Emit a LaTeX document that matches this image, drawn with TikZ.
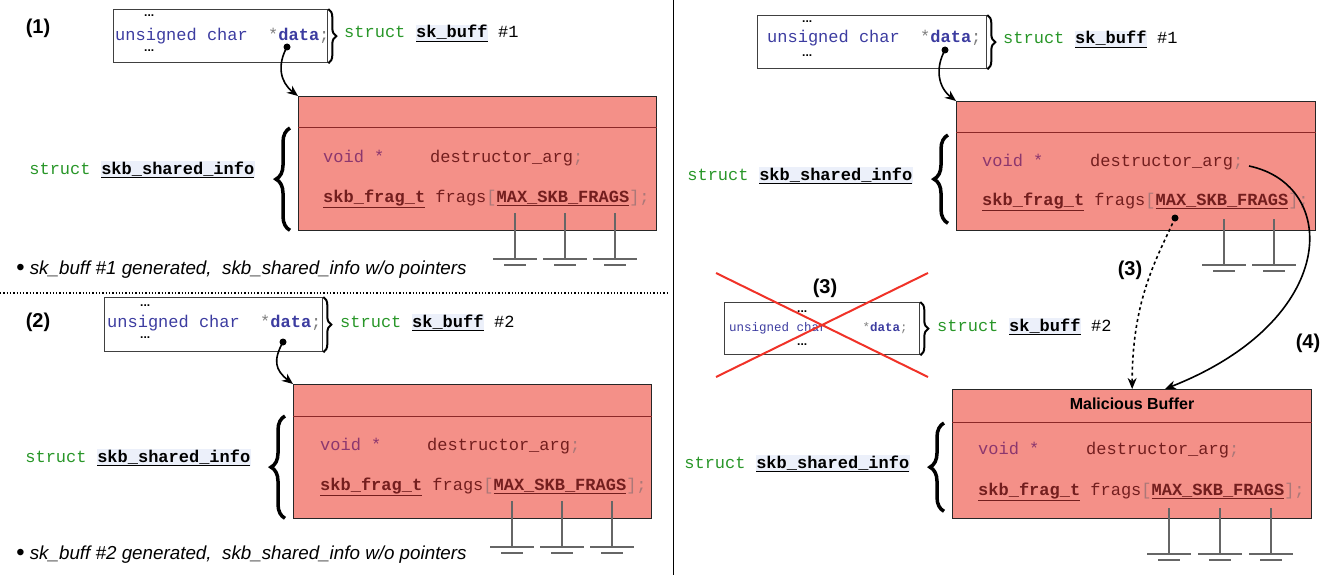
\documentclass[tikz,border=0pt]{standalone}
\usepackage{fontspec}
\setmainfont{Liberation Sans}
\setsansfont{Liberation Sans}
\setmonofont{Liberation Mono}
\usepackage{xcolor}
\usepackage{tikz}
\usetikzlibrary{arrows.meta, positioning, calc, decorations.pathreplacing}

\definecolor{infofill}{RGB}{244,144,136}
\definecolor{infoline}{RGB}{140,40,40}
\definecolor{kwblue}{RGB}{60,60,160}
\definecolor{kwgreen}{RGB}{40,150,40}
\definecolor{kwpurple}{RGB}{140,55,110}
\definecolor{kwdark}{RGB}{115,30,30}
\definecolor{typebg}{RGB}{236,240,250}
\definecolor{crossred}{RGB}{240,50,40}

\newcommand{\typename}[1]{{\setlength{\fboxsep}{0.5pt}\colorbox{typebg}{\underline{\textbf{#1}}}}}
\newcommand{\fieldtype}[1]{\underline{\textbf{#1}}}
\newcommand{\bigbullet}{{\fontsize{24}{24}\selectfont\raisebox{-1.5pt}{\textbullet}}}

\begin{document}
\begin{tikzpicture}[
    x=1pt, y=-1pt,
    buf/.style={draw=black!75, line width=1.3pt, anchor=north west, inner sep=0pt},
    info/.style={draw=black!85, line width=1.3pt, fill=infofill, anchor=north west, inner sep=0pt, minimum width=358pt, minimum height=134pt},
    code/.style={font=\fontsize{17}{20}\selectfont\ttfamily, anchor=base west, inner sep=0pt},
    smallcode/.style={font=\fontsize{12.5}{14}\selectfont\ttfamily, anchor=base west, inner sep=0pt},
    dots/.style={font=\fontsize{12}{12}\selectfont\bfseries, anchor=base west, inner sep=0pt},
    label/.style={font=\fontsize{20}{24}\selectfont\bfseries, inner sep=0pt},
    note/.style={font=\fontsize{18.8}{22}\selectfont\itshape, anchor=base west, inner sep=0pt},
    sep/.style={draw=infoline, line width=1pt},
    ptr/.style={-{Stealth[length=11pt, width=9pt]}, line width=1.6pt},
    dot/.style={circle, fill=black, inner sep=0pt, minimum size=7pt},
    rbrace/.style={decorate, decoration={brace, amplitude=8pt}, line width=2pt},
    lbrace/.style={decorate, decoration={brace, amplitude=14pt}, line width=3.5pt},
    wire/.style={draw=black!60, line width=1.3pt},
    cross/.style={draw=crossred, line width=2pt},
    ground/.pic={
        \draw[wire] (0,-46) -- (0,0);
        \draw[wire] (-22,0) -- (22,0);
        \draw[wire] (-11,6) -- (11,6);
    },
]
\useasboundingbox (0,0) rectangle (1325,575);

% Dividers
\draw[line width=1pt] (673,0) -- (673,575);
\draw[dotted, line width=1.3pt] (0,293) -- (668,293);

% (1) first sk_buff
\node[label] (step1) at (38,28) {(1)};
\node[buf, minimum width=214pt, minimum height=53pt] (buf1) at (113,9) {};
\node[dots] (buf1top) at (144,17) {...};
\node[code] (buf1data) at (115,41) {\textcolor{kwblue}{unsigned char}\ \ \textcolor{gray}{*}\textcolor{kwblue}{\textbf{data}}\textcolor{gray}{;}};
\node[dots] (buf1bot) at (144,52) {...};
\draw[rbrace] (buf1.north east) -- (buf1.south east);
\node[code] (buf1name) at (344,38) {\textcolor{kwgreen}{struct} \typename{sk\_buff} \#1};
\node[dot] (d1) at (287,47) {};

% (1) skb_shared_info
\node[info] (info1) at (298,96) {};
\draw[sep] ($(info1.north west)+(0,32)$) -- ($(info1.north east)+(0,32)$);
\draw[lbrace] ($(info1.south west)+(-8,-1)$) -- ($(info1.north west)+(-8,32)$);
\node[code, anchor=base east] (info1name) at (255,174) {\textcolor{kwgreen}{struct} \typename{skb\_shared\_info}};
\node[code] (info1void) at (323,162) {\textcolor{kwpurple}{void *}};
\node[code] (info1arg) at (430,162) {\textcolor{kwdark}{destructor\_arg}\textcolor{kwdark!60}{;}};
\node[code] (info1frags) at (323,202) {\textcolor{kwdark}{\fieldtype{skb\_frag\_t} frags}\textcolor{kwdark!60}{[}\textcolor{kwdark}{\fieldtype{MAX\_SKB\_FRAGS}}\textcolor{kwdark!60}{];}};
\pic at (515,259) {ground};
\pic at (565,259) {ground};
\pic at (615,259) {ground};
\draw[ptr] (d1.center) .. controls +(-10,18) and +(-18,-14) .. (info1.north west);
\node[note] (note1) at (16,274) {\bigbullet\ sk\_buff \#1 generated,\ \ skb\_shared\_info w/o pointers};

% (2) second sk_buff
\node[label] (step2) at (38,322) {(2)};
\node[buf, minimum width=218pt, minimum height=54pt] (buf2) at (104,297) {};
\node[dots] (buf2top) at (140,306) {...};
\node[code] (buf2data) at (107,327) {\textcolor{kwblue}{unsigned char}\ \ \textcolor{gray}{*}\textcolor{kwblue}{\textbf{data}}\textcolor{gray}{;}};
\node[dots] (buf2bot) at (140,338) {...};
\draw[rbrace] (buf2.north east) -- (buf2.south east);
\node[code] (buf2name) at (340,327) {\textcolor{kwgreen}{struct} \typename{sk\_buff} \#2};
\node[dot] (d2) at (283,342) {};

% (2) skb_shared_info
\node[info] (info2) at (293,384) {};
\draw[sep] ($(info2.north west)+(0,32)$) -- ($(info2.north east)+(0,32)$);
\draw[lbrace] ($(info2.south west)+(-8,-1)$) -- ($(info2.north west)+(-8,32)$);
\node[code, anchor=base east] (info2name) at (251,462) {\textcolor{kwgreen}{struct} \typename{skb\_shared\_info}};
\node[code] (info2void) at (320,450) {\textcolor{kwpurple}{void *}};
\node[code] (info2arg) at (427,450) {\textcolor{kwdark}{destructor\_arg}\textcolor{kwdark!60}{;}};
\node[code] (info2frags) at (320,490) {\textcolor{kwdark}{\fieldtype{skb\_frag\_t} frags}\textcolor{kwdark!60}{[}\textcolor{kwdark}{\fieldtype{MAX\_SKB\_FRAGS}}\textcolor{kwdark!60}{];}};
\pic at (512,547) {ground};
\pic at (562,547) {ground};
\pic at (612,547) {ground};
\draw[ptr] (d2.center) .. controls +(-10,18) and +(-18,-14) .. (info2.north west);
\node[note] (note2) at (16,559) {\bigbullet\ sk\_buff \#2 generated,\ \ skb\_shared\_info w/o pointers};

% Right: sk_buff #1
\node[buf, minimum width=229pt, minimum height=53pt] (buf3) at (757,15) {};
\node[dots] (buf3top) at (802,23) {...};
\node[code] (buf3data) at (767,43) {\textcolor{kwblue}{unsigned char}\ \ \textcolor{gray}{*}\textcolor{kwblue}{\textbf{data}}\textcolor{gray}{;}};
\node[dots] (buf3bot) at (802,57) {...};
\draw[rbrace] (buf3.north east) -- (buf3.south east);
\node[code] (buf3name) at (1003,44) {\textcolor{kwgreen}{struct} \typename{sk\_buff} \#1};
\node[dot] (d3) at (945,50) {};

% Right: skb_shared_info
\node[info, minimum width=359pt, minimum height=129pt] (info3) at (956,101) {};
\draw[sep] ($(info3.north west)+(0,32)$) -- ($(info3.north east)+(0,32)$);
\draw[lbrace] ($(info3.south west)+(-8,-8)$) -- ($(info3.north west)+(-8,34)$);
\node[code, anchor=base east] (info3name) at (913,180) {\textcolor{kwgreen}{struct} \typename{skb\_shared\_info}};
\node[code] (info3void) at (982,166) {\textcolor{kwpurple}{void *}};
\node[code] (info3arg) at (1090,166) {\textcolor{kwdark}{destructor\_arg}\textcolor{kwdark!60}{;}};
\node[code] (info3frags) at (982,205) {\textcolor{kwdark}{\fieldtype{skb\_frag\_t} frags}\textcolor{kwdark!60}{[}\textcolor{kwdark}{\fieldtype{MAX\_SKB\_FRAGS}}\textcolor{kwdark!60}{];}};
\pic at (1224,265) {ground};
\pic at (1274,265) {ground};
\draw[ptr] (d3.center) .. controls +(-10,18) and +(-18,-14) .. (info3.north west);
\node[dot] (d4) at (1175,218) {};
\coordinate (argend) at (1249,166);

% Right: freed sk_buff #2
\node[label] (step3b) at (825,288) {(3)};
\node[buf, minimum width=195pt, minimum height=52pt] (buf4) at (724,302) {};
\node[dots] (buf4top) at (797,312) {...};
\node[smallcode] (buf4data) at (729,331) {\textcolor{kwblue}{unsigned char}\hspace{36pt}\textcolor{gray}{*}\textcolor{kwblue}{\textbf{data}}\textcolor{gray}{;}};
\node[dots] (buf4bot) at (797,345) {...};
\draw[rbrace] (buf4.north east) -- (buf4.south east);
\node[code] (buf4name) at (937,331) {\textcolor{kwgreen}{struct} \typename{sk\_buff} \#2};
\draw[cross] (716,273) -- (928,377);
\draw[cross] (716,377) -- (928,273);

% Right: malicious buffer
\node[info, minimum width=359pt, minimum height=129pt] (mal) at (952,389) {};
\draw[sep] ($(mal.north west)+(0,33)$) -- ($(mal.north east)+(0,33)$);
\node[font=\fontsize{16}{19}\selectfont\bfseries] (maltitle) at (1132,404) {Malicious Buffer};
\draw[lbrace] ($(mal.south west)+(-8,-8)$) -- ($(mal.north west)+(-8,34)$);
\node[code, anchor=base east] (malname) at (910,468) {\textcolor{kwgreen}{struct} \typename{skb\_shared\_info}};
\node[code] (malvoid) at (978,454) {\textcolor{kwpurple}{void *}};
\node[code] (malarg) at (1086,454) {\textcolor{kwdark}{destructor\_arg}\textcolor{kwdark!60}{;}};
\node[code] (malfrags) at (978,495) {\textcolor{kwdark}{\fieldtype{skb\_frag\_t} frags}\textcolor{kwdark!60}{[}\textcolor{kwdark}{\fieldtype{MAX\_SKB\_FRAGS}}\textcolor{kwdark!60}{];}};
\pic at (1169,554) {ground};
\pic at (1220,554) {ground};
\pic at (1271,554) {ground};
\coordinate (malin) at (1165,389);

% (3) and (4)
\draw[ptr, dashed] (d4.center) .. controls +(-18,40) and +(0,-90) .. (mal.north);
\node[label] (step3) at (1130,270) {(3)};
\draw[ptr] (argend) .. controls (1340,185) and (1340,320) .. (malin);
\node[label] (step4) at (1308,343) {(4)};

\end{tikzpicture}
\end{document}
